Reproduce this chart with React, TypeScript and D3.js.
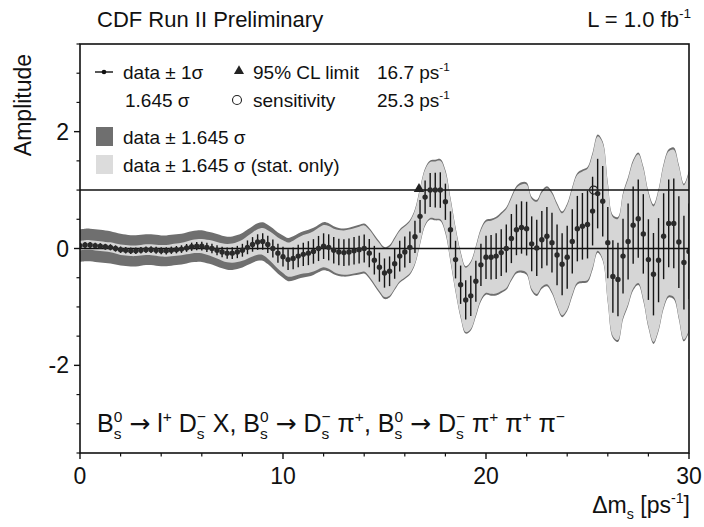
import React from 'react';
import * as d3 from 'd3';

// ---- data ----
const DM_STEP = 0.25; // scan grid in ps^-1
const deltaMs: number[] = d3.range(0, 30 + 1e-9, DM_STEP);

const amplitude: number[] = [
  0.05, 0.06, 0.06, 0.05, 0.04, 0.03, 0.02, 0.0, -0.02, -0.03, -0.04, -0.04,
  -0.03, -0.02, -0.02, -0.03, -0.04, -0.04, -0.03, -0.02, -0.01, 0.01, 0.03, 0.04,
  0.04, 0.02, 0.0, -0.03, -0.06, -0.08, -0.08, -0.06, -0.03, 0.02, 0.07, 0.11,
  0.12, 0.07, 0.0, -0.08, -0.14, -0.19, -0.17, -0.13, -0.1, -0.08, -0.05, 0.0,
  0.04, 0.02, -0.03, -0.06, -0.07, -0.06, -0.04, -0.02, 0.0, -0.08, -0.2, -0.32,
  -0.42, -0.39, -0.26, -0.13, -0.06, 0.02, 0.2, 0.55, 0.88, 1.0, 1.0, 1.0,
  0.8, 0.32, -0.19, -0.62, -0.88, -0.81, -0.56, -0.28, -0.15, -0.15, -0.13, -0.07,
  0.0, 0.17, 0.32, 0.36, 0.34, 0.08, 0.01, 0.15, 0.21, 0.1, -0.11, -0.27,
  -0.15, 0.12, 0.34, 0.38, 0.41, 0.64, 0.94, 0.81, 0.1, -0.48, -0.53, -0.13,
  0.12, 0.4, 0.51, 0.25, -0.19, -0.44, -0.2, 0.21, 0.43, 0.43, 0.11, -0.24,
  -0.05,
];

const sigmaStat: number[] = [
  0.05, 0.05, 0.05, 0.05, 0.05, 0.05, 0.052, 0.053, 0.055, 0.055, 0.055, 0.055,
  0.055, 0.056, 0.057, 0.058, 0.06, 0.061, 0.062, 0.063, 0.065, 0.067, 0.07, 0.072,
  0.075, 0.078, 0.082, 0.086, 0.09, 0.095, 0.1, 0.105, 0.11, 0.118, 0.125, 0.133,
  0.14, 0.148, 0.155, 0.163, 0.17, 0.178, 0.185, 0.193, 0.2, 0.205, 0.21, 0.215,
  0.22, 0.223, 0.225, 0.228, 0.23, 0.233, 0.235, 0.238, 0.24, 0.243, 0.245, 0.248,
  0.25, 0.254, 0.258, 0.262, 0.265, 0.27, 0.275, 0.28, 0.285, 0.291, 0.298, 0.304,
  0.31, 0.316, 0.322, 0.328, 0.335, 0.344, 0.352, 0.361, 0.37, 0.38, 0.39, 0.4,
  0.41, 0.42, 0.435, 0.448, 0.46, 0.47, 0.48, 0.49, 0.5, 0.51, 0.52, 0.53,
  0.54, 0.55, 0.56, 0.57, 0.58, 0.588, 0.595, 0.603, 0.61, 0.62, 0.63, 0.64,
  0.65, 0.66, 0.67, 0.68, 0.69, 0.705, 0.72, 0.735, 0.75, 0.767, 0.785, 0.802,
  0.82,
];

const sigmaTot: number[] = [
  0.17, 0.17, 0.17, 0.17, 0.17, 0.17, 0.168, 0.166, 0.165, 0.164, 0.163, 0.162,
  0.16, 0.16, 0.16, 0.16, 0.16, 0.16, 0.16, 0.16, 0.16, 0.161, 0.162, 0.164,
  0.165, 0.166, 0.167, 0.168, 0.17, 0.172, 0.174, 0.177, 0.18, 0.185, 0.19, 0.195,
  0.2, 0.205, 0.21, 0.215, 0.22, 0.225, 0.23, 0.235, 0.24, 0.243, 0.245, 0.248,
  0.25, 0.25, 0.25, 0.25, 0.25, 0.253, 0.255, 0.258, 0.26, 0.263, 0.265, 0.268,
  0.27, 0.273, 0.275, 0.278, 0.28, 0.285, 0.29, 0.295, 0.3, 0.307, 0.315, 0.322,
  0.33, 0.335, 0.34, 0.345, 0.35, 0.36, 0.37, 0.38, 0.39, 0.4, 0.41, 0.42,
  0.43, 0.44, 0.455, 0.47, 0.48, 0.49, 0.5, 0.51, 0.52, 0.53, 0.54, 0.55,
  0.56, 0.57, 0.58, 0.59, 0.6, 0.61, 0.615, 0.62, 0.63, 0.64, 0.65, 0.66,
  0.67, 0.68, 0.69, 0.7, 0.71, 0.725, 0.74, 0.755, 0.77, 0.79, 0.805, 0.82,
  0.84,
];

const CL_FACTOR = 1.645;
const CL_LIMIT = 16.7;
const SENSITIVITY = 25.3;
const xMajorTicks = [0, 10, 20, 30];
const xMinorTicks = [2, 4, 6, 8, 12, 14, 16, 18, 22, 24, 26, 28];
const yMajorTicks = [-2, 0, 2];
const yMinorTicks = [-3.5, -3, -2.5, -1.5, -1, -0.5, 0.5, 1, 1.5, 2.5, 3, 3.5];
const refLines = [0, 1];

// ---- layout ----
const W = 704;
const H = 527;
const X0 = 80, X1 = 689, Y0 = 44, Y1 = 453;
const FONT = '"Liberation Sans", Arial, Helvetica, sans-serif';
const ARROW_FONT = '"DejaVu Sans", sans-serif';

type Seg = { t: string; sup?: string; sub?: string };

const CW: Record<string, number> = { '0': 0.556, '1': 0.556, s: 0.5, '+': 0.584, '−': 0.584, '-': 0.333 };
const wOf = (s: string, fs: number) => s.split('').reduce((a, c) => a + (CW[c] ?? 0.55), 0) * fs;

function Rich({ x, y, fs, segs, anchor = 'start' }: { x: number; y: number; fs: number; segs: Seg[]; anchor?: string }) {
  const out: React.ReactNode[] = [];
  let cur = 0;
  let extra = 0;
  const sfs = fs * 0.62;
  const supOff = -fs * 0.42;
  const subOff = fs * 0.26;
  segs.forEach((s, i) => {
    if (s.t) {
      const pieces: { txt: string; arrow: boolean }[] = [];
      s.t.split('→').forEach((p, j) => {
        if (j > 0) pieces.push({ txt: '→', arrow: true });
        if (p) pieces.push({ txt: p, arrow: false });
      });
      pieces.forEach((pc, j) => {
        out.push(
          <tspan
            key={i + 'n' + j}
            fontFamily={pc.arrow ? ARROW_FONT : undefined}
            dy={j === 0 ? -cur : undefined}
            dx={j === 0 && extra ? extra : undefined}
          >
            {pc.txt}
          </tspan>
        );
      });
      cur = 0;
      extra = 0;
    }
    if (s.sup && s.sub) {
      const ws = wOf(s.sup, sfs);
      const wb = wOf(s.sub, sfs);
      out.push(<tspan key={i + 'p'} fontSize={sfs} dy={supOff - cur}>{s.sup}</tspan>);
      out.push(<tspan key={i + 'b'} fontSize={sfs} dx={-ws} dy={subOff - supOff}>{s.sub}</tspan>);
      cur = subOff;
      extra = Math.max(0, ws - wb);
    } else if (s.sup) {
      out.push(<tspan key={i + 'p'} fontSize={sfs} dy={supOff - cur}>{s.sup}</tspan>);
      cur = supOff;
    } else if (s.sub) {
      out.push(<tspan key={i + 'b'} fontSize={sfs} dy={subOff - cur}>{s.sub}</tspan>);
      cur = subOff;
    }
  });
  return (
    <text x={x} y={y} fontSize={fs} fontFamily={FONT} textAnchor={anchor} fill="#111">
      {out}
    </text>
  );
}

export default function App() {
  const x = d3.scaleLinear().domain([0, 30]).range([X0, X1]);
  const y = d3.scaleLinear().domain([-3.5, 3.5]).range([Y1, Y0]);

  const pts = deltaMs.map((dm, i) => ({ dm, a: amplitude[i], st: sigmaStat[i], tot: sigmaTot[i] }));
  type P = (typeof pts)[number];

  const totArea = d3.area<P>()
    .x((d) => x(d.dm))
    .y0((d) => y(d.a - CL_FACTOR * d.tot))
    .y1((d) => y(d.a + CL_FACTOR * d.tot))
    .curve(d3.curveCatmullRom.alpha(0.5));
  const statArea = d3.area<P>()
    .x((d) => x(d.dm))
    .y0((d) => y(d.a - CL_FACTOR * d.st))
    .y1((d) => y(d.a + CL_FACTOR * d.st))
    .curve(d3.curveCatmullRom.alpha(0.5));

  const triPath = d3.symbol().type(d3.symbolTriangle).size(48)();
  const triLegend = d3.symbol().type(d3.symbolTriangle).size(44)();

  const LF = 19;

  return (
    <svg width={W} height={H} viewBox={`0 0 ${W} ${H}`} style={{ display: 'block', position: 'absolute', left: 0, top: 0 }}>
      <rect x={0} y={0} width={W} height={H} fill="#fff" />
      <defs>
        <clipPath id="plotclip">
          <rect x={X0} y={Y0} width={X1 - X0} height={Y1 - Y0} />
        </clipPath>
      </defs>

      {/* title */}
      <Rich x={97} y={27} fs={22} segs={[{ t: 'CDF Run II Preliminary' }]} />
      <Rich x={691} y={27} fs={22} anchor="end" segs={[{ t: 'L = 1.0 fb', sup: '-1' }]} />

      <g clipPath="url(#plotclip)">
        <path d={totArea(pts) ?? ''} fill="#6f6f6f" />
        <path d={statArea(pts) ?? ''} fill="#d6d6d6" />
        {refLines.map((v) => (
          <line key={v} x1={X0} x2={X1} y1={y(v)} y2={y(v)} stroke="#111" strokeWidth={1.5} />
        ))}
        {pts.map((d) => (
          <line key={'e' + d.dm} x1={x(d.dm)} x2={x(d.dm)} y1={y(d.a - d.st)} y2={y(d.a + d.st)} stroke="#151515" strokeWidth={1.4} />
        ))}
        {pts.map((d) => (
          <circle key={'p' + d.dm} cx={x(d.dm)} cy={y(d.a)} r={2.7} fill="#2a2a2a" />
        ))}
        <path d={triPath ?? ''} transform={`translate(${x(CL_LIMIT)},${y(1) - 1})`} fill="#222" />
        <circle cx={x(SENSITIVITY)} cy={y(1)} r={4} fill="none" stroke="#222" strokeWidth={1.2} />
      </g>

      {/* frame */}
      <rect x={X0} y={Y0} width={X1 - X0} height={Y1 - Y0} fill="none" stroke="#111" strokeWidth={1.6} />

      {/* x ticks */}
      {xMajorTicks.map((t) => (
        <g key={'xm' + t}>
          <line x1={x(t)} x2={x(t)} y1={Y1} y2={Y1 + 6} stroke="#111" strokeWidth={1.4} />
          <text x={x(t)} y={Y1 + 31} fontSize={23} fontFamily={FONT} textAnchor="middle" fill="#111">{t}</text>
        </g>
      ))}
      {xMinorTicks.map((t) => (
        <line key={'xn' + t} x1={x(t)} x2={x(t)} y1={Y1} y2={Y1 + 3.5} stroke="#111" strokeWidth={1.2} />
      ))}
      {/* y ticks */}
      {yMajorTicks.map((t) => (
        <g key={'ym' + t}>
          <line x1={X0 - 6} x2={X0} y1={y(t)} y2={y(t)} stroke="#111" strokeWidth={1.4} />
          <text x={X0 - 11} y={y(t) + 8} fontSize={23} fontFamily={FONT} textAnchor="end" fill="#111">{t}</text>
        </g>
      ))}
      {yMinorTicks.map((t) => (
        <line key={'yn' + t} x1={X0 - 3.5} x2={X0} y1={y(t)} y2={y(t)} stroke="#111" strokeWidth={1.2} />
      ))}

      {/* axis titles */}
      <text transform={`translate(31,${(Y0 + 162) / 2 + 2}) rotate(-90)`} fontSize={23} fontFamily={FONT} textAnchor="middle" fill="#111">Amplitude</text>
      <Rich x={690} y={513} fs={23} anchor="end" segs={[{ t: 'Δm', sub: 's' }, { t: ' [ps', sup: '-1' }, { t: ']' }]} />

      {/* legend */}
      <line x1={95} x2={113} y1={72} y2={72} stroke="#111" strokeWidth={1.4} />
      <circle cx={104} cy={72} r={2.3} fill="#111" />
      <Rich x={123} y={79} fs={LF} segs={[{ t: 'data ± 1σ' }]} />
      <path d={triLegend ?? ''} transform={`translate(239,71)`} fill="#222" />
      <Rich x={253} y={79} fs={LF} segs={[{ t: '95% CL limit' }]} />
      <Rich x={377} y={79} fs={LF} segs={[{ t: '16.7 ps', sup: '-1' }]} />
      <Rich x={125} y={107} fs={LF} segs={[{ t: '1.645 σ' }]} />
      <circle cx={237} cy={100} r={4.5} fill="none" stroke="#222" strokeWidth={1.1} />
      <Rich x={253} y={107} fs={LF} segs={[{ t: 'sensitivity' }]} />
      <Rich x={377} y={107} fs={LF} segs={[{ t: '25.3 ps', sup: '-1' }]} />
      <rect x={96} y={127} width={17} height={19} fill="#6f6f6f" />
      <Rich x={123} y={144} fs={LF} segs={[{ t: 'data ± 1.645 σ' }]} />
      <rect x={96} y={155} width={17} height={19} fill="#dcdcdc" />
      <Rich x={123} y={172} fs={LF} segs={[{ t: 'data ± 1.645 σ (stat. only)' }]} />

      {/* decay channels */}
      <Rich
        x={97}
        y={432}
        fs={25}
        segs={[
          { t: 'B', sup: '0', sub: 's' },
          { t: ' → l', sup: '+' },
          { t: ' D', sup: '−', sub: 's' },
          { t: ' X, B', sup: '0', sub: 's' },
          { t: ' → D', sup: '−', sub: 's' },
          { t: ' π', sup: '+' },
          { t: ', B', sup: '0', sub: 's' },
          { t: ' → D', sup: '−', sub: 's' },
          { t: ' π', sup: '+' },
          { t: ' π', sup: '+' },
          { t: ' π', sup: '−' },
        ]}
      />
    </svg>
  );
}
